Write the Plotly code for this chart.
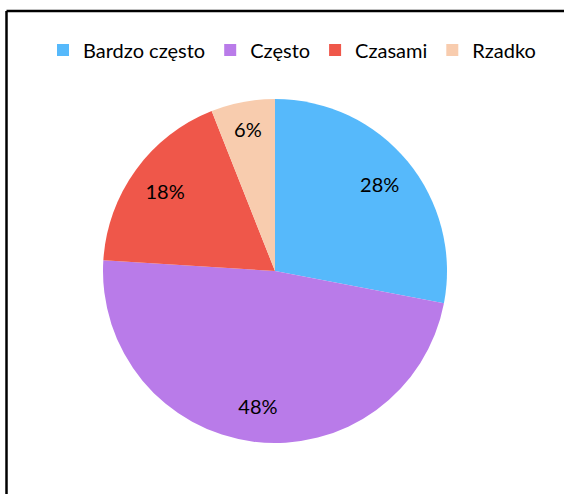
import plotly.graph_objects as go

labels = ["Bardzo często", "Często", "Czasami", "Rzadko"]
values = [28, 48, 18, 6]
colors = ["#56B9FB", "#B97BE9", "#EF574A", "#F8CCAE"]

W, H = 564, 494
FONT = "Lato"
dom = dict(x=[103 / W, 447 / W], y=[1 - 443 / H, 1 - 99 / H])

# Filled pie (slices + legend)
pie = go.Pie(
    labels=labels,
    values=values,
    sort=False,
    direction="clockwise",
    rotation=0,
    marker=dict(colors=colors, line=dict(width=0)),
    textinfo="none",
    domain=dom,
    hoverinfo="label+percent",
)

# Same data as a transparent ring, used only to place the percentage labels
ring = go.Pie(
    labels=labels,
    values=values,
    sort=False,
    direction="clockwise",
    rotation=0,
    hole=0.58,
    marker=dict(colors=["rgba(0,0,0,0)"] * len(values), line=dict(width=0)),
    texttemplate="%{percent:.0%}",
    textposition="inside",
    insidetextorientation="horizontal",
    textfont=dict(size=20, color="black", family=FONT),
    domain=dom,
    showlegend=False,
    hoverinfo="skip",
)

fig = go.Figure([pie, ring])

fig.update_layout(
    width=W, height=H,
    margin=dict(l=0, r=0, t=0, b=0),
    paper_bgcolor="white",
    font=dict(family=FONT, size=20, color="black"),
    showlegend=True,
    legend=dict(
        orientation="h",
        x=292 / W, xanchor="center",
        y=1 - 50 / H, yanchor="middle",
        font=dict(size=20, family=FONT, color="black"),
        itemclick=False,
    ),
    shapes=[
        dict(type="line", xref="paper", yref="paper",
             x0=6.5 / W, x1=1.05, y0=1 - 11 / H, y1=1 - 11 / H,
             line=dict(color="black", width=2.5)),
        dict(type="line", xref="paper", yref="paper",
             x0=6.5 / W, x1=6.5 / W, y0=-0.05, y1=1 - 11 / H,
             line=dict(color="black", width=2.5)),
    ],
)

fig.write_html("out.html", config={"displayModeBar": False},
               post_script="document.body.style.margin='0';")
